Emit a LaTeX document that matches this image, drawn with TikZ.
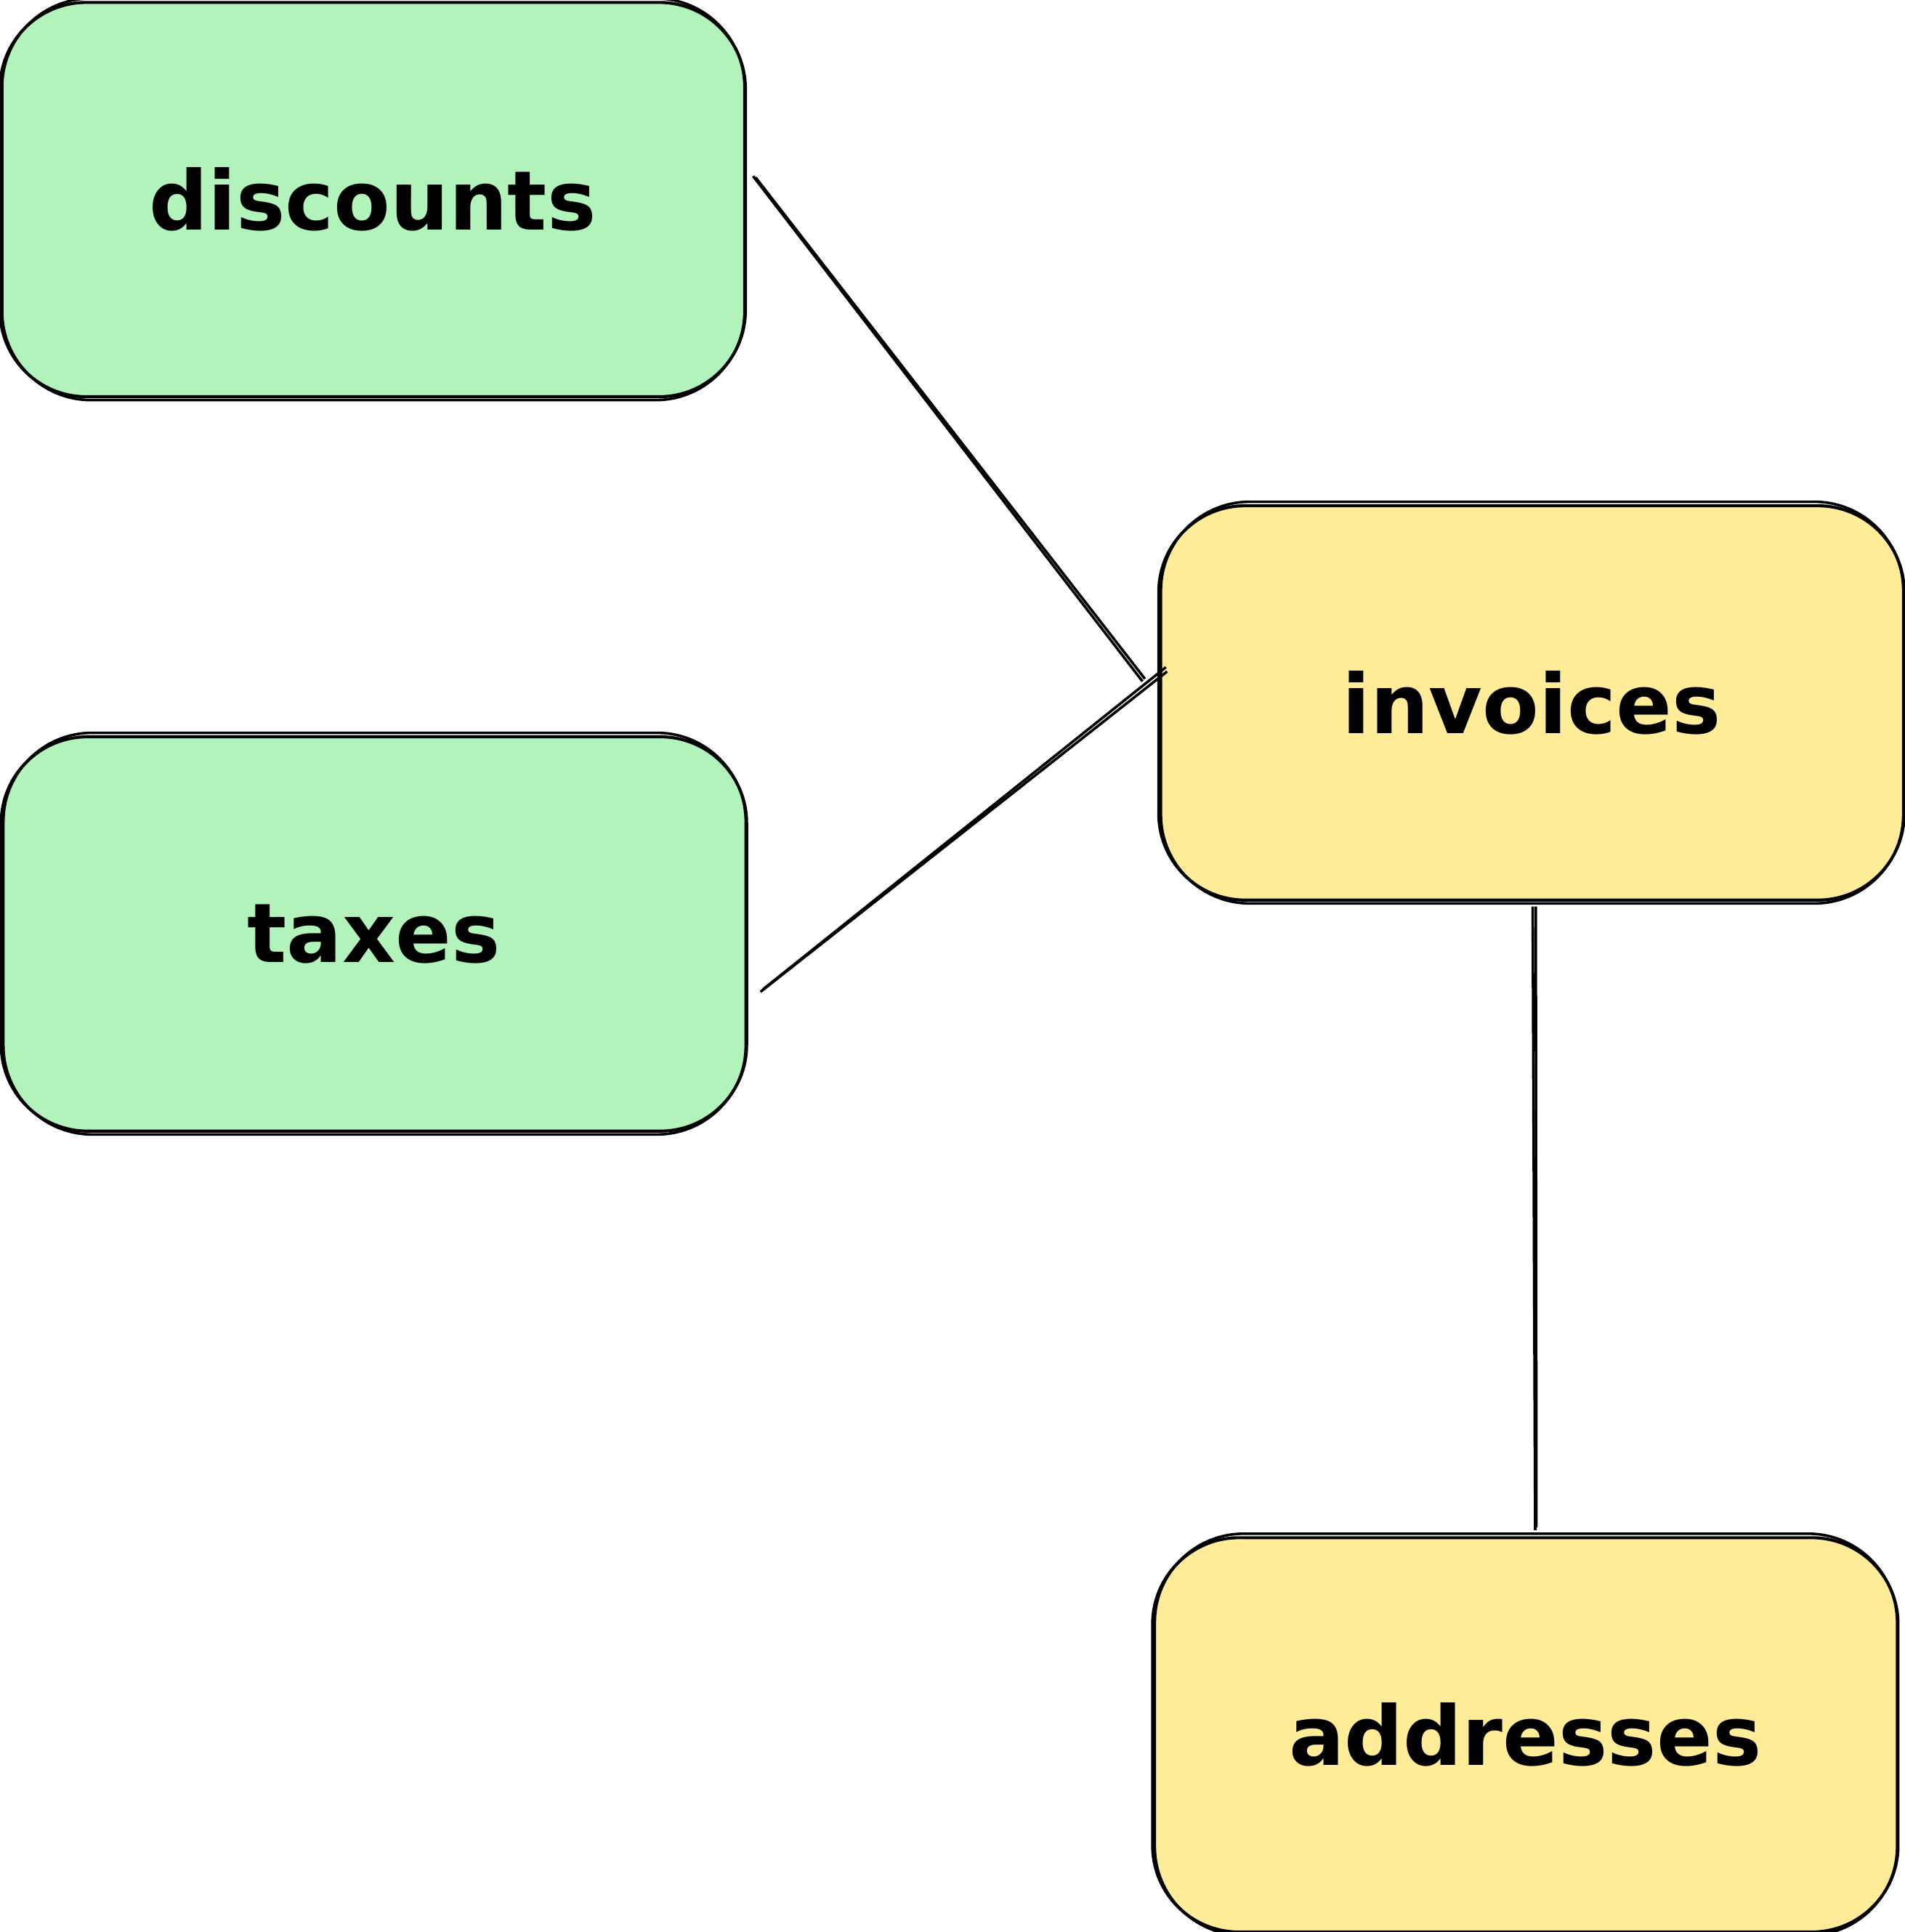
\documentclass[tikz,border=0pt]{standalone}
\usepackage{fontspec}
\newfontfamily\handfont{DejaVu Sans}
\usetikzlibrary{calc}
\definecolor{mint}{HTML}{B2F2BB}
\definecolor{butter}{HTML}{FFEC99}
\tikzset{
  table/.style={draw=black, line width=0.7pt, rounded corners=0.7cm,
    minimum width=6.05cm, minimum height=3.2cm, inner sep=0pt,
    font=\handfont\bfseries\fontsize{19}{23}\selectfont},
  link/.style={black, line width=0.6pt},
}

\begin{document}
\begin{tikzpicture}
\useasboundingbox (0,0) rectangle (15.46,15.68);
\node[table, fill=mint]   (discounts) at (3.025,14.06) {discounts};
\node[table, fill=mint]   (taxes)     at (3.035,8.10)  {taxes};
\node[table, fill=butter] (invoices)  at (12.43,9.975) {invoices};
\node[table, fill=butter] (addresses) at (12.38,1.60)  {addresses};
\foreach \t in {discounts, taxes, invoices, addresses} {
 \draw[line width=0.6pt, rounded corners=0.72cm] ($(\t.south west)+(0.03,-0.015)$) rectangle ($(\t.north east)+(-0.02,0.02)$);
}
\draw[link] ($(discounts.east)+(0.05,0.19)$) -- ($(invoices.west)+(-0.12,0.175)$);
\draw[link] ($(discounts.east)+(0.07,0.18)$) -- ($(invoices.west)+(-0.10,0.195)$);
\draw[link] ($(taxes.east)+(0.10,-0.47)$) -- ($(invoices.west)+(0.08,0.255)$);
\draw[link] ($(taxes.east)+(0.12,-0.45)$) -- ($(invoices.west)+(0.07,0.29)$);
\draw[link] ($(invoices.south)+(0.01,-0.04)$) -- ($(addresses.north)+(0.08,0.05)$);
\draw[link] ($(invoices.south)+(0.035,-0.04)$) -- ($(addresses.north)+(0.09,0.07)$);
\end{tikzpicture}
\end{document}
